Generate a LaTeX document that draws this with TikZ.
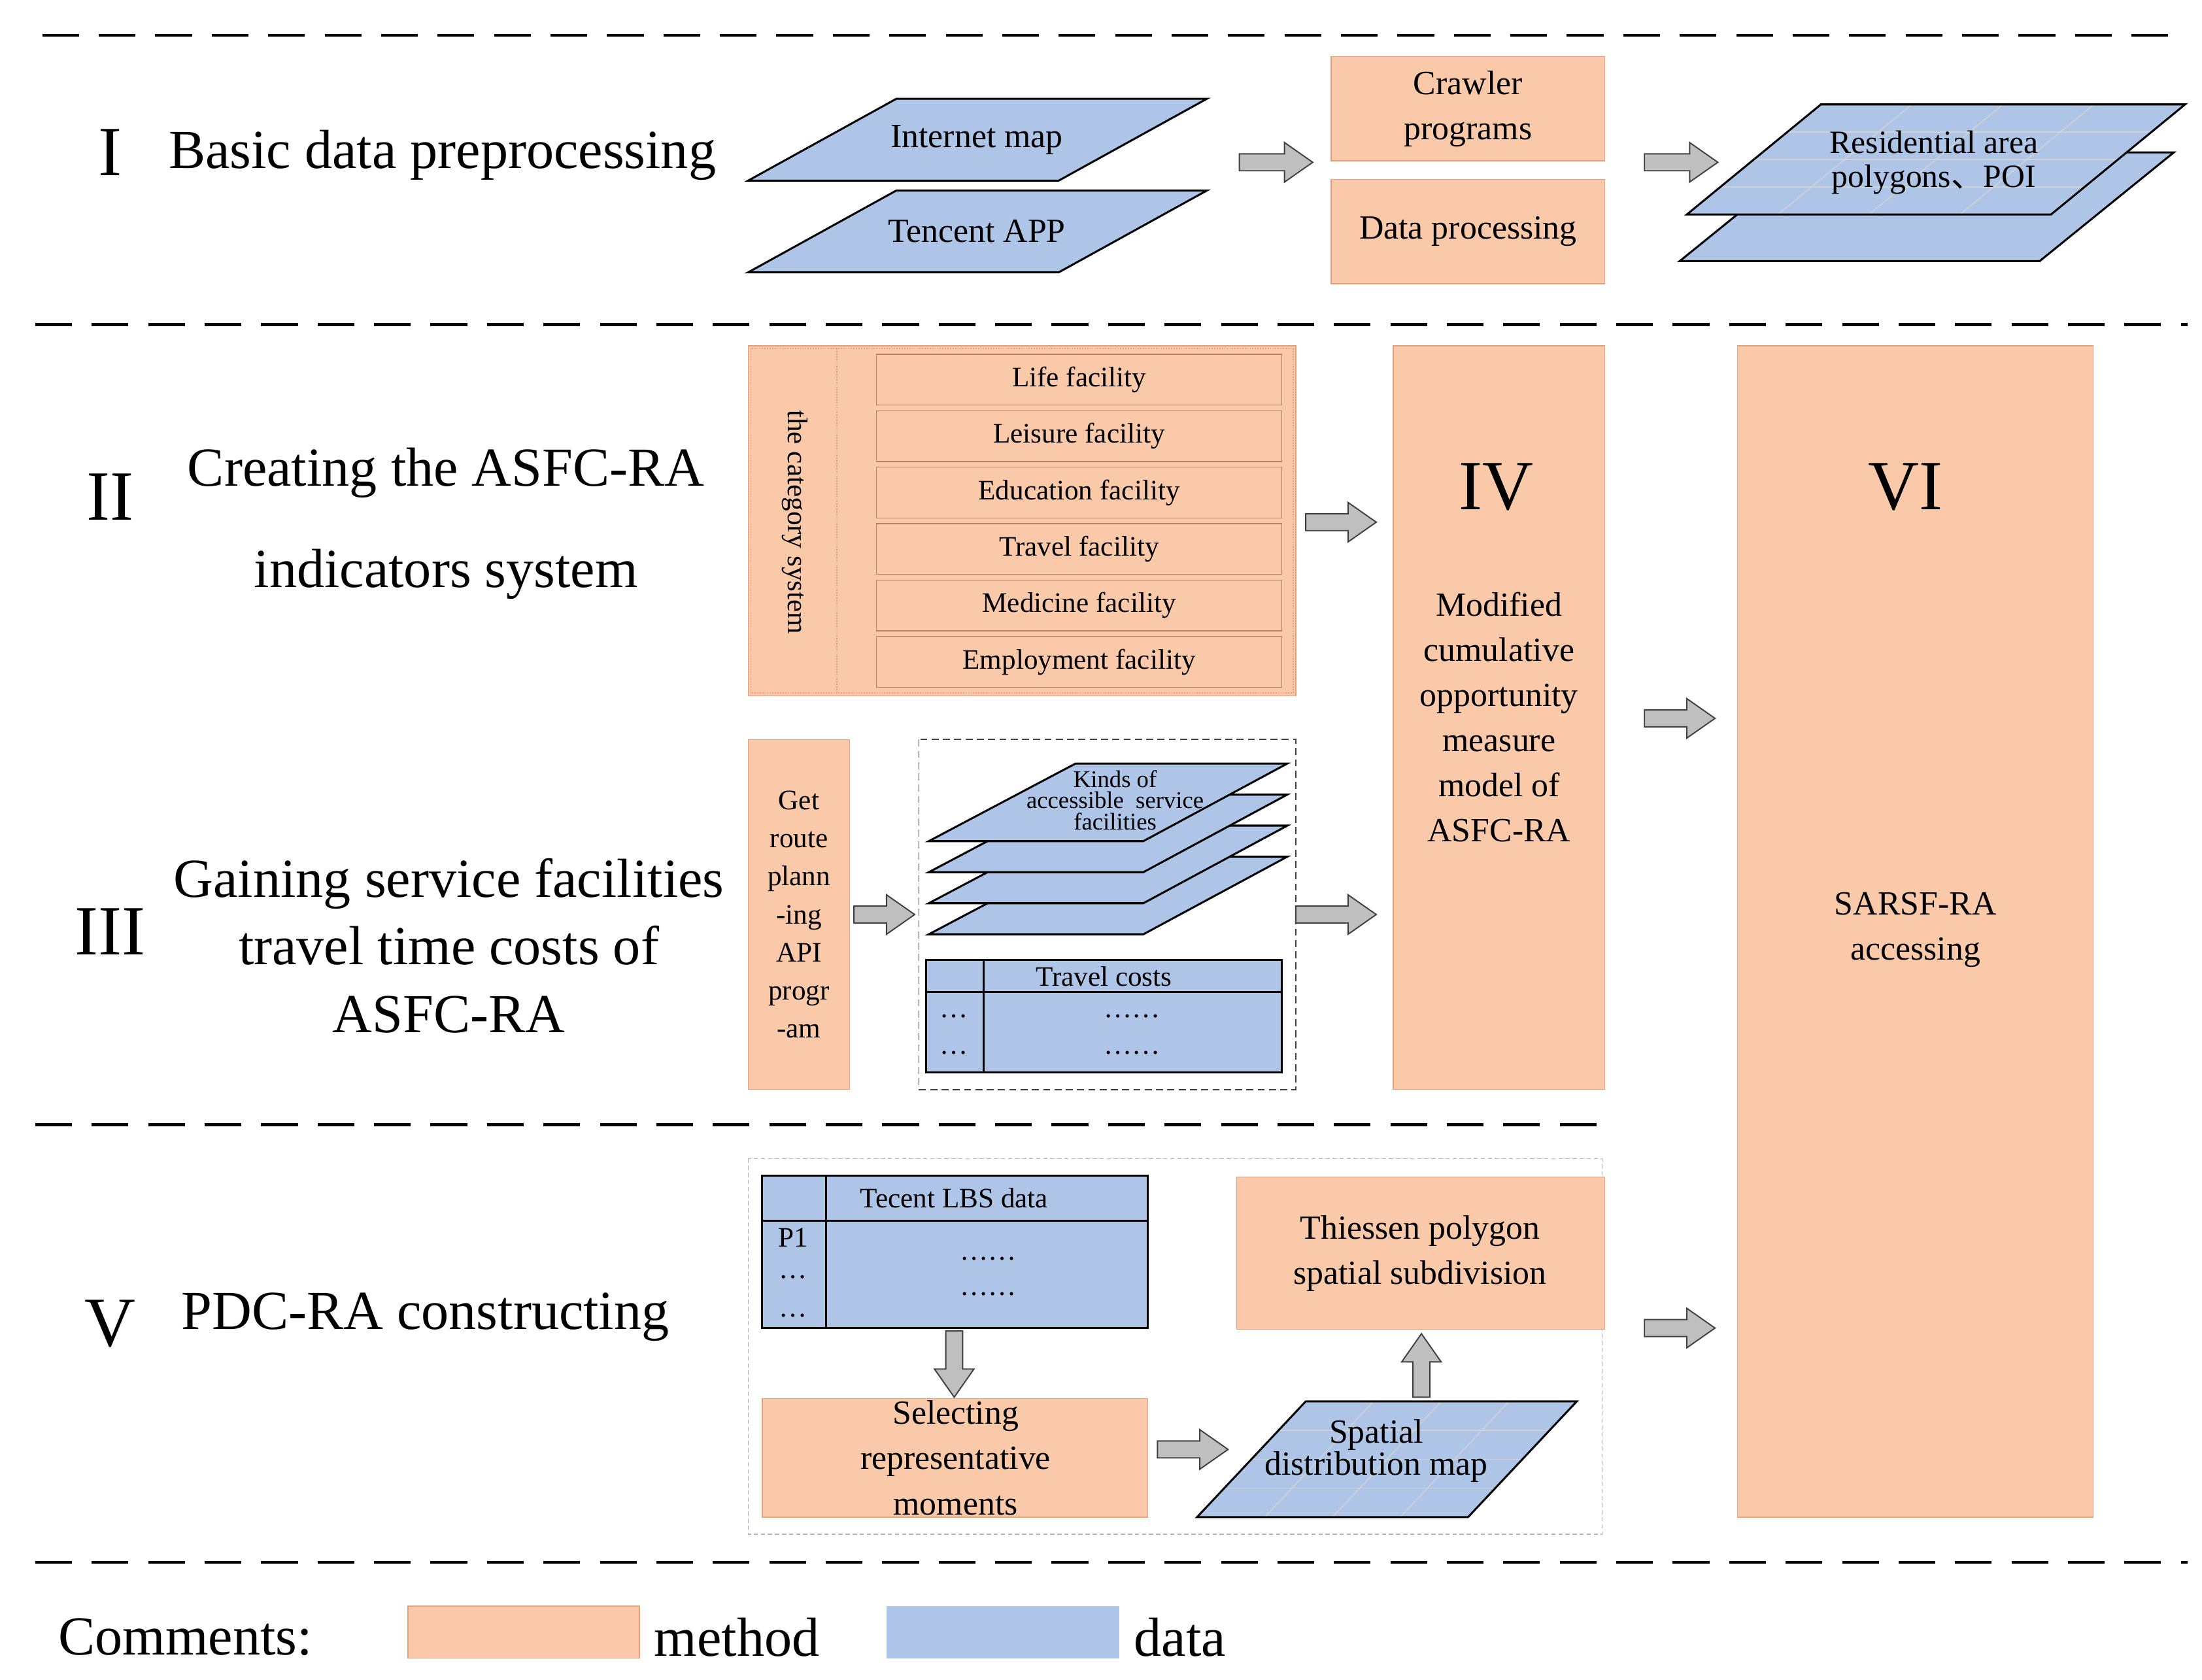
\documentclass[tikz,border=0pt]{standalone}
\usepackage{fontspec}
\setmainfont{Liberation Serif}
\newfontfamily\cjk{Noto Sans CJK SC}
\begin{document}
\definecolor{meth}{HTML}{F9C9A9}
\definecolor{methd}{HTML}{E8A07C}
\definecolor{dat}{HTML}{AFC5E8}
\definecolor{agray}{HTML}{BFBFBF}
\begin{tikzpicture}[x=1pt,y=-1pt,
  sep/.style={line width=2.2pt,dash pattern=on 26pt off 14pt},
  meth/.style={fill=meth,draw=methd,line width=0.6pt},
  dat/.style={fill=dat,draw=black,line width=1.4pt},
  grid/.style={draw=gray!35,line width=0.7pt},
  big/.style={font=\fontsize{50}{52}\selectfont},
  head/.style={font=\fontsize{39}{48}\selectfont,align=center},
  txt/.style={font=\fontsize{24}{32}\selectfont,align=center},
  sm/.style={font=\fontsize{20}{22}\selectfont,align=center},
  pics/barrow/.style={code={\draw[fill=agray,draw=black!75,line width=0.9pt]
    (0,-6)--(#1-20,-6)--(#1-20,-14)--(#1,0)--(#1-20,14)--(#1-20,6)--(0,6)--cycle;}}]
\useasboundingbox (0,0) rectangle (1560,1190);
% separators
\draw[sep] (30,25)--(1550,25);
\draw[sep] (25,230)--(1550,230);
\draw[sep] (25,797)--(1135,797);
\draw[sep] (25,1107)--(1550,1107);
% row labels
\node[big] (r1) at (78,108) {I};
\node[head,anchor=west] (t1) at (116,110) {Basic data preprocessing};
\node[big] (r2) at (78,352) {II};
\node[head] (t2) at (316,371) {Creating the ASFC-RA\\[24pt]indicators system};
\node[big] (r3) at (78,660) {III};
\node[head,font=\fontsize{39}{48}\selectfont] (t3) at (318,670) {Gaining service facilities\\travel time costs of\\ASFC-RA};
\node[big] (r5) at (78,938) {V};
\node[head,anchor=west] (t5) at (125,933) {PDC-RA constructing};
% section I
\draw[dat] (635,70)--(855,70)--(750,128)--(530,128)--cycle;
\node[txt] (im) at (692,99) {Internet map};
\draw[dat] (635,135)--(855,135)--(750,193)--(530,193)--cycle;
\node[txt] (ta) at (692,164) {Tencent APP};
\pic at (878,115) {barrow=52};
\draw[meth] (943,40) rectangle (1137,114);
\node[txt] (cp) at (1040,77) {Crawler\\programs};
\draw[meth] (943,127) rectangle (1137,201);
\node[txt] (dp) at (1040,164) {Data processing};
\pic at (1165,115) {barrow=52};
\draw[dat] (1285,108)--(1540,108)--(1445,185)--(1190,185)--cycle;
\fill[dat,draw=none] (1290,74)--(1548,74)--(1453,152)--(1195,152)--cycle;
\foreach \f in {0.25,0.5,0.75}{
  \draw[grid] ({1290+\f*258},74)--({1195+\f*258},152);
  \draw[grid] ({1290-\f*95},{74+\f*78})--({1548-\f*95},{74+\f*78});}
\draw[line width=1.4pt] (1290,74)--(1548,74)--(1453,152)--(1195,152)--cycle;
\node[txt,font=\fontsize{23}{24}\selectfont] (ra) at (1370,115) {Residential area\\polygons{\cjk 、}POI};
% section II
\draw[meth] (530,245) rectangle (918,493);
\draw[methd,densely dotted,line width=0.8pt] (593,247)--(593,491) (532,247) rectangle (916,491);
\node[sm,rotate=-90] (cs) at (563,370) {the category system};
\foreach \n/\t [count=\i from 0] in {lf/Life facility,lsf/Leisure facility,ef/Education facility,tf/Travel facility,mf/Medicine facility,emf/Employment facility}{
  \draw[meth,draw=methd!80!black] (621,{251+\i*40}) rectangle (908,{287+\i*40});
  \node[sm] (\n) at (764.5,{269+\i*40}) {\t};}
\pic at (925,370) {barrow=50};
\draw[meth] (987,245) rectangle (1137,772);
\node[big] (iv) at (1060,345) {IV};
\node[txt] (mc) at (1062,508) {Modified\\cumulative\\opportunity\\measure\\model of\\ASFC-RA};
\draw[meth] (1231,245) rectangle (1483,1075);
\node[big] (vi) at (1350,345) {VI};
\node[txt] (sa) at (1357,659) {SARSF-RA\\accessing};
\pic at (1165,509) {barrow=50};
\pic at (1165,941) {barrow=50};
% section III
\draw[meth] (530,524) rectangle (602,772);
\node[sm,font=\fontsize{20}{27}\selectfont] (gr) at (566,648) {Get\\route\\plann\\-ing\\API\\progr\\-am};
\pic at (605,648) {barrow=43};
\draw[black!75,line width=0.9pt,dash pattern=on 5pt off 3pt] (651,524) rectangle (918,772);
\foreach \k in {3,2,1,0}{
  \draw[dat] (762,{541+22*\k})--(912,{541+22*\k})--(810,{596+22*\k})--(658,{596+22*\k})--cycle;}
\node[sm,font=\fontsize{17}{15}\selectfont] (ks) at (790,567) {Kinds of\\accessible\ \ service\\facilities};
\draw[dat] (656,680) rectangle (908,760);
\draw[line width=1.4pt] (656,703)--(908,703) (697,680)--(697,760);
\node[sm] (tc) at (782,692) {Travel costs};
\node[sm] (d1) at (676,720) {…};
\node[sm] (d2) at (676,746) {…};
\node[sm] (d3) at (802,720) {……};
\node[sm] (d4) at (802,746) {……};
\pic at (918,648) {barrow=57};
% section V
\draw[gray!60,line width=0.7pt,dash pattern=on 3pt off 2pt] (530,821) rectangle (1135,1087);
\draw[dat] (540,833) rectangle (813,941);
\draw[line width=1.4pt] (540,865)--(813,865) (585,833)--(585,941);
\node[sm] (lbs) at (676,849) {Tecent LBS data};
\node[sm] (p1) at (562,877) {P1};
\node[sm] (e1) at (562,905) {…};
\node[sm] (e2) at (562,932) {…};
\node[sm] (e3) at (700,892) {……};
\node[sm] (e4) at (700,917) {……};
\pic[rotate=-90] at (676,943) {barrow=47};
\draw[meth] (540,991) rectangle (813,1075);
\node[txt] (sr) at (677,1033) {Selecting\\representative\\moments};
\pic at (820,1027) {barrow=50};
\fill[dat,draw=none] (925,993)--(1117,993)--(1040,1075)--(848,1075)--cycle;
\foreach \f in {0.25,0.5,0.75}{
  \draw[grid] ({925+\f*192},993)--({848+\f*192},1075);
  \draw[grid] ({925-\f*77},{993+\f*82})--({1117-\f*77},{993+\f*82});}
\draw[line width=1.4pt] (925,993)--(1117,993)--(1040,1075)--(848,1075)--cycle;
\node[txt,font=\fontsize{24}{23}\selectfont] (sd) at (975,1028) {Spatial\\distribution map};
\pic[rotate=90] at (1007,990) {barrow=45};
\draw[meth] (876,834) rectangle (1137,942);
\node[txt] (th) at (1006,888) {Thiessen polygon\\spatial subdivision};
% legend
\node[head,anchor=west] (cm) at (38,1160) {Comments:};
\fill[meth] (289,1138) rectangle (453,1175);
\node[head,anchor=west] (lm) at (460,1160) {method};
\fill[dat,draw=none] (628,1138) rectangle (793,1175);
\node[head,anchor=west] (ld) at (800,1160) {data};
\end{tikzpicture}
\end{document}
